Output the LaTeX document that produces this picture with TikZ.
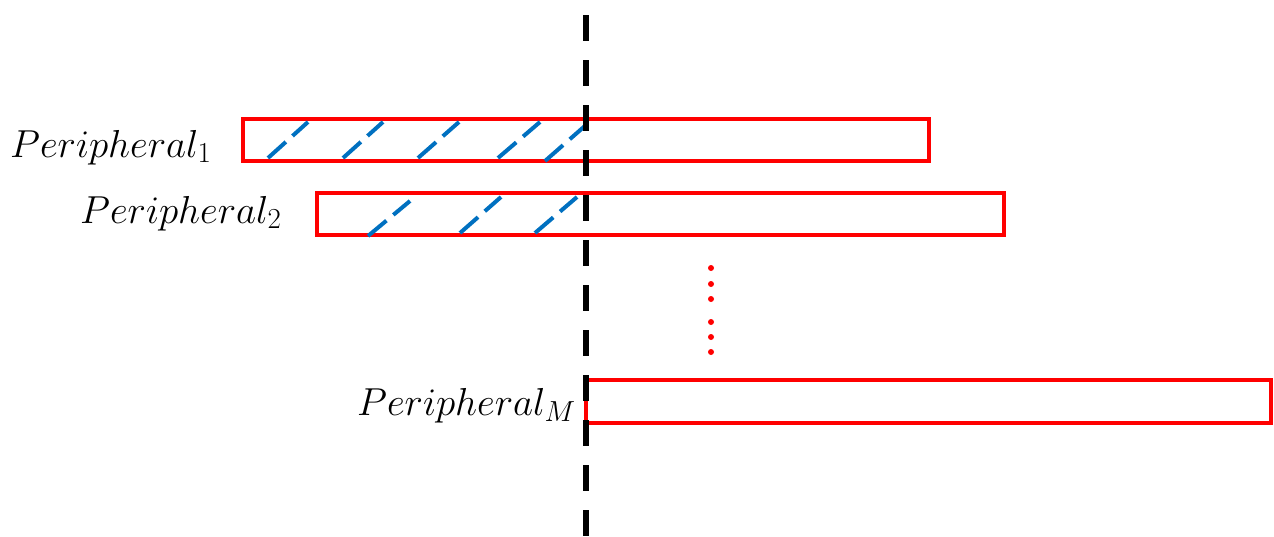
\documentclass[tikz,border=0pt]{standalone}
\usepackage{fix-cm}
\DeclareMathSizes{39}{39}{29}{22}
\definecolor{barred}{HTML}{FF0000}
\definecolor{hatchblue}{HTML}{0070C0}
\begin{document}
\begin{tikzpicture}[x=1pt,y=-1pt,
  bar/.style={draw=barred, line width=4pt, rectangle, inner sep=0pt, outer sep=0pt},
  hatch/.style={draw=hatchblue, line width=4pt, dash pattern=on 24pt off 9pt},
  divider/.style={draw=black, line width=6pt, dash pattern=on 26pt off 19pt},
  lbl/.style={anchor=base west, inner sep=0pt, font=\fontsize{39}{44}\selectfont},
  dot/.style={fill=barred}]
\useasboundingbox (0,0) rectangle (1274,536);

% bars
\node[bar, minimum width=686pt, minimum height=42pt] (b1) at (586,140) {};
\node[bar, minimum width=687pt, minimum height=42pt] (b2) at (660.5,214) {};
\node[bar, minimum width=685pt, minimum height=43pt] (bm) at (928.5,401.5) {};

% hatching of the first bar
\draw[hatch] (268,158) -- (308,122);
\draw[hatch] (343,158) -- (383,122);
\draw[hatch] (418,158) -- (459,122);
\draw[hatch] (498,158) -- (540,122);
\draw[hatch] (545,161) -- (586,125);

% hatching of the second bar
\draw[hatch] (368,236) -- (410,201);
\draw[hatch] (460,233) -- (501,197);
\draw[hatch] (535,233) -- (577,197);

% labels
\node[lbl] (l1) at (10,157) {$Peripheral_1$};
\node[lbl] (l2) at (80,223) {$Peripheral_2$};
\node[lbl] (lm) at (357,415) {$Peripheral_M$};

% vertical ellipsis
\foreach \y in {268,284,299,322,337,352}
  \fill[dot] (711,\y) circle (3pt);

% dashed divider
\coordinate (dtop) at (586,15);
\coordinate (dbot) at (586,540);
\draw[divider] (dtop) -- (dbot);
\end{tikzpicture}
\end{document}
